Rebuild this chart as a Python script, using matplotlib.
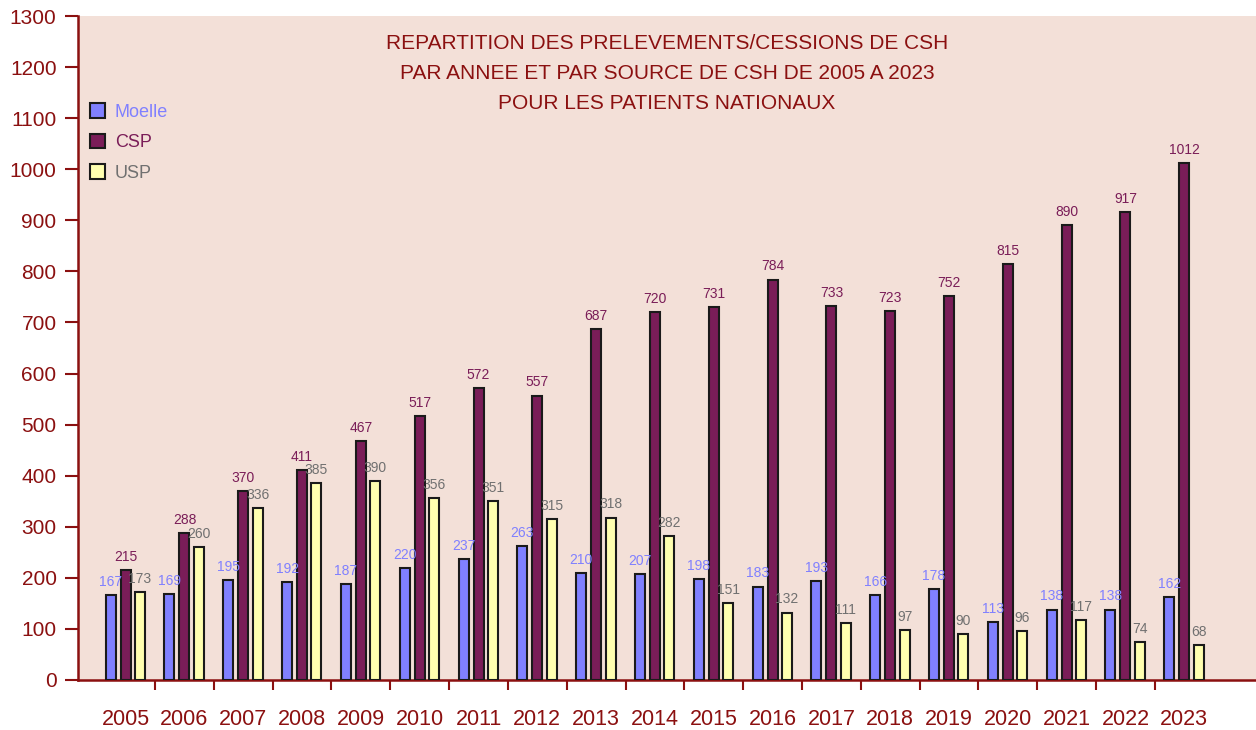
import numpy as np
import matplotlib.pyplot as plt

years = [str(y) for y in range(2005, 2024)]
moelle = [167, 169, 195, 192, 187, 220, 237, 263, 210, 207, 198, 183, 193, 166, 178, 113, 138, 138, 162]
csp = [215, 288, 370, 411, 467, 517, 572, 557, 687, 720, 731, 784, 733, 723, 752, 815, 890, 917, 1012]
usp = [173, 260, 336, 385, 390, 356, 351, 315, 318, 282, 151, 132, 111, 97, 90, 96, 117, 74, 68]

series = [("Moelle", moelle, "#8080ff", "#8080ff"),
          ("CSP", csp, "#7a1d58", "#7a1d58"),
          ("USP", usp, "#ffffb0", "#707070")]

dark_red = "#8b1010"
plt.rcParams['font.family'] = ['Liberation Sans', 'DejaVu Sans']

fig = plt.figure(figsize=(12.56, 7.30), dpi=100)
ax = fig.add_axes([0.0621, 0.0685, 0.9379, 0.9095])
ax.set_facecolor("#f3e0d8")

x = np.arange(len(years))
offsets = [-0.255, 0.0, 0.245]
width = 0.17
for (name, vals, col, tcol), off in zip(series, offsets):
    bars = ax.bar(x + off, vals, width, color=col, edgecolor="#1a1a1a",
                  linewidth=1.5, label=name, zorder=3)
    for b, v in zip(bars, vals):
        ax.text(b.get_x() + b.get_width() / 2, v + 12, str(v), ha="center",
                va="bottom", fontsize=10, color=tcol, zorder=4)

ax.set_xlim(-0.81, 19.22)
ax.set_ylim(0, 1300)
ax.set_yticks(range(0, 1301, 100))

# ticks between groups, labels at group centres
ax.set_xticks(x[:-1] + 0.5)
ax.set_xticklabels([])
ax.set_xticks(x, minor=True)
ax.set_xticklabels(years, minor=True)
ax.tick_params(axis="x", which="major", length=7.2, width=1.5, color=dark_red, direction="out")
ax.tick_params(axis="x", which="minor", length=0, pad=21, labelsize=15.5, labelcolor=dark_red)
ax.tick_params(axis="y", length=9.4, width=1.5, color=dark_red, direction="out",
               pad=6, labelsize=15, labelcolor=dark_red)

for s in ["top", "right"]:
    ax.spines[s].set_visible(False)
for s in ["left", "bottom"]:
    ax.spines[s].set_color(dark_red)
    ax.spines[s].set_linewidth(1.8)

ax.text(0.5, 0.973, "REPARTITION DES PRELEVEMENTS/CESSIONS DE CSH\n"
        "PAR ANNEE ET PAR SOURCE DE CSH DE 2005 A 2023\nPOUR LES PATIENTS NATIONAUX",
        transform=ax.transAxes, ha="center", va="top", fontsize=15,
        color=dark_red, linespacing=1.75)

leg = ax.legend(loc="upper left", bbox_to_anchor=(-0.004, 0.893), frameon=False,
                fontsize=13, handlelength=0.85, handleheight=0.85, handletextpad=0.55,
                labelspacing=0.72, labelcolor=[s[3] for s in series])

fig.savefig("out.png", dpi=100)
